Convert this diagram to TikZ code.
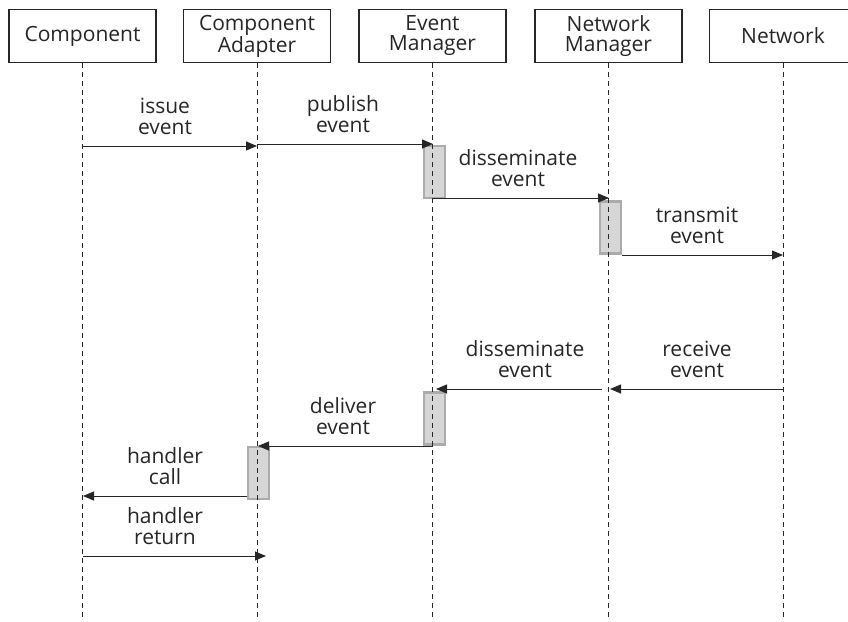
\documentclass[tikz,border=0pt]{standalone}
\usepackage{fontspec}
\setmainfont{Open Sans}
\usepackage{tikz}
\usetikzlibrary{positioning,arrows.meta}

\definecolor{inkgray}{HTML}{262626}
\definecolor{barfill}{HTML}{D6D6D6}
\definecolor{barline}{HTML}{ABABAB}

\tikzset{
    actor/.style={draw=inkgray, line width=1.2pt, minimum width=147pt, minimum height=53pt,
        inner sep=0pt, align=center, text=inkgray, font=\fontsize{21}{20}\selectfont},
    lifeline/.style={inkgray, line width=0.9pt, dash pattern=on 5pt off 4pt},
    activation/.style={draw=barline, fill=barfill, line width=2.2pt, minimum width=21pt,
        minimum height=52pt, inner sep=0pt},
    msg/.style={inkgray, line width=1pt, -{Triangle[length=11pt,width=9pt]}},
    msglabel/.style={align=center, text=inkgray, font=\fontsize{21}{21}\selectfont}
}

\begin{document}
\begin{tikzpicture}[x=1pt, y=-1pt]
    \useasboundingbox (0,0) rectangle (848,621);
    \coordinate (bottom) at (0,621);

    % Participants
    \node[actor] (comp)    at (82.5,36)  {Component};
    \node[actor] (adapter) at (257,36)   {Component\\Adapter};
    \node[actor] (evtmgr)  at (432.5,36) {Event\\Manager};
    \node[actor] (netmgr)  at (608.5,36) {Network\\Manager};
    \node[actor] (net)     at (783,36)   {Network};

    % Activation bars
    \node[activation] (evtbar1) at (434.5,172)   {};
    \node[activation] (netbar)  at (610.5,227.5) {};
    \node[activation] (evtbar2) at (434.5,418.5) {};
    \node[activation] (adpbar)  at (258.5,473)   {};

    % Lifelines
    \foreach \who in {comp,adapter,evtmgr,netmgr,net}
        \draw[lifeline] (\who.south) -- (\who.south |- bottom);

    % Messages
    \foreach \n/\xa/\xb/\y/\lx/\txt in {
        issue/83/257/146/165/{issue\\event},
        publish/257/433/144/343/{publish\\event},
        spreadout/433/609/198/518/{disseminate\\event},
        transmit/622/783/255/697/{transmit\\event},
        receive/783/610/389/697/{receive\\event},
        spreadin/602/436/389/525/{disseminate\\event},
        deliver/433/258/446/343/{deliver\\event},
        hcall/247/83/496/165/{handler\\call},
        hreturn/83/266/556/165/{handler\\return}}
    {
        \coordinate (\n-from) at (\xa,\y);
        \coordinate (\n-to) at (\xb,\y);
        \draw[msg] (\n-from) -- (\n-to);
        \node[msglabel] (\n-label) at (\lx,\y-30) {\txt};
    }

\end{tikzpicture}
\end{document}
